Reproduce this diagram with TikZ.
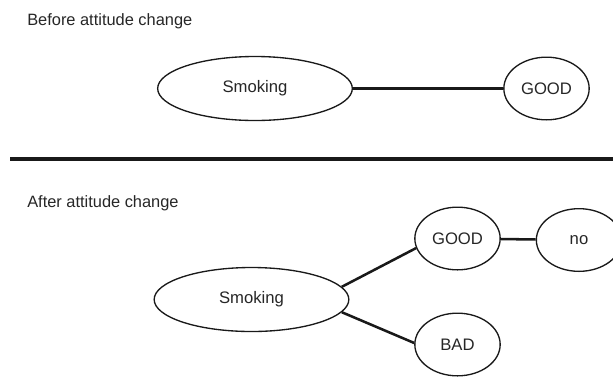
\documentclass[tikz,border=0pt]{standalone}
\usepackage{fontspec}
\setmainfont{Liberation Sans}
\usetikzlibrary{shapes.geometric}

\tikzset{
  bubble/.style={draw=black!90, line width=1pt, ellipse, inner sep=0pt, text=black!85, font=\fontsize{12.5}{15}\selectfont},
  bigbubble/.style={bubble, minimum width=146pt, minimum height=48pt},
  smallbubble/.style={bubble, minimum width=64pt, minimum height=47pt},
  link/.style={draw=black!90, line width=1.9pt},
  heading/.style={anchor=west, inner sep=0pt, text=black!85, font=\fontsize{12.3}{15}\selectfont}
}

\begin{document}
\begin{tikzpicture}[x=0.75pt,y=0.75pt,yscale=-1,xscale=1]
\useasboundingbox (0,0) rectangle (613,376);
\clip (0,0) rectangle (613,376);

% Text Node
\node [heading] (title1) at (27,21) {Before attitude change};
% Text Node
\node [heading] (title2) at (27,203) {After attitude change};

%Shape: Ellipse [before]
\node [bigbubble] (smoke1) at (255,88.5) {Smoking};
%Shape: Ellipse [before]
\node [smallbubble] (good1) at (546.5,88.5) {GOOD};
%Straight Lines [before]
\draw [link] (smoke1) -- (good1);

%Straight Lines [separator]
\coordinate (sepL) at (10,159);
\coordinate (sepR) at (620,159);
\draw [line width=2.8pt, black!90] (sepL) -- (sepR);

%Shape: Ellipse [after]
\node [bigbubble] (smoke2) at (251.5,299.5) {Smoking};
%Shape: Ellipse [after]
\node [smallbubble] (good2) at (457.5,238.5) {GOOD};
%Shape: Ellipse [after]
\node [smallbubble] (no2) at (579,240) {no};
%Shape: Ellipse [after]
\node [smallbubble] (bad2) at (457.5,344.5) {BAD};

%Straight Lines [after]
\draw [link] (smoke2.8) -- (good2.193);
\draw [link] (smoke2.-8) -- (bad2.178);
\draw [link] (good2) -- (no2);

\end{tikzpicture}
\end{document}
